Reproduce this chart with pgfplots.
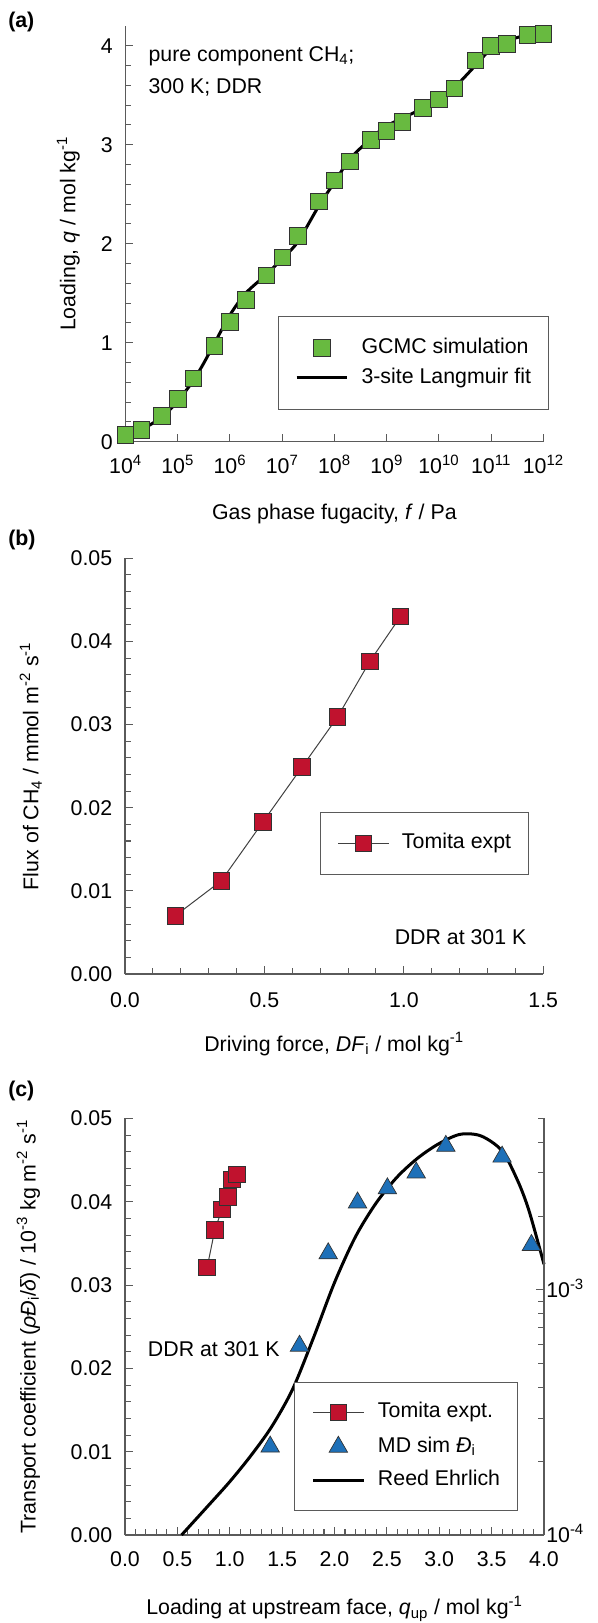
\documentclass[border=0pt]{standalone}
\usepackage{pgfplots}
\pgfplotsset{compat=1.18}
\usepackage{fontspec}
\setmainfont{Liberation Sans}

\definecolor{gcmcgreen}{RGB}{104,186,64}
\definecolor{tomred}{RGB}{192,18,46}
\definecolor{mdblue}{RGB}{30,112,184}
\definecolor{axgray}{RGB}{90,90,90}
\definecolor{markedge}{RGB}{50,50,50}

\pgfplotsset{
  panel/.style={
    scale only axis, clip=false,
    font=\fontsize{16pt}{19pt}\selectfont,
    axis lines*=left,
    axis line style={axgray, line width=0.9pt},
    tick style={axgray, line width=0.8pt},
    major tick length=6pt, minor tick length=4.5pt,
    tick align=inside,
    scaled ticks=false,
    yticklabel style={anchor=east, inner sep=0pt, xshift=-9.4pt},
    xlabel style={anchor=base, inner sep=0pt},
    ylabel style={anchor=base, inner sep=0pt},
    legend cell align=left,
    legend style={draw=axgray, line width=0.8pt, fill=white,
      anchor=north west, inner xsep=12.75pt,
      nodes={inner sep=0pt, text height=11.5pt, text depth=3.5pt},
      /tikz/every odd column/.append style={column sep=9.6pt}},
  },
  wide legend/.style={legend image code/.code={%
      \draw[mark repeat=2,mark phase=2,##1] plot coordinates {(0pt,0pt) (19pt,0pt) (38pt,0pt)};}},
}

\begin{document}
\begin{tikzpicture}[font=\fontsize{16pt}{19pt}\selectfont]
\path[use as bounding box] (0pt,0pt) rectangle (448.5pt,-1217.25pt);

% ---------------- (a) adsorption isotherm ----------------
\node[anchor=base west, inner sep=0pt, font=\fontsize{16pt}{19pt}\selectfont\bfseries] at (6pt,-20.6pt) {(a)};
\begin{axis}[panel,
  at={(94.125pt,-331.275pt)}, anchor=south west,
  width=313.35pt, height=311.8pt,
  xmode=log, xmin=1e4, xmax=1e12, ymin=0, ymax=4.2,
  xtick={1e4,1e5,1e6,1e7,1e8,1e9,1e10,1e11,1e12},
  xticklabels={10\textsuperscript{4},10\textsuperscript{5},10\textsuperscript{6},10\textsuperscript{7},10\textsuperscript{8},10\textsuperscript{9},10\textsuperscript{10},10\textsuperscript{11},10\textsuperscript{12}},
  xminorticks=false,
  ytick={0,1,2,3,4}, yticklabels={0,1,2,3,4}, minor y tick num=4,
  xticklabel style={anchor=base, inner sep=0pt, yshift=-23.75pt},
  xlabel={Gas phase fugacity, \textit{f} / Pa},
  xlabel style={at={(axis description cs:0.5,-0.1867)}},
  ylabel={Loading, \textit{q} / mol kg\textsuperscript{-1}},
  ylabel style={at={(axis description cs:-0.1197,0.5)}},
  legend style={at={(0.3638,0.3024)}, inner ysep=16.1pt, row sep=7.5pt},
]
\addplot[only marks, mark=square*, mark size=6.2pt,
  mark options={fill=gcmcgreen, draw=markedge, line width=0.6pt}, wide legend]
  coordinates {
  (1e4,0.067) (2e4,0.117) (5e4,0.26) (1e5,0.43) (2e5,0.64) (5e5,0.97)
  (1e6,1.21) (2e6,1.43) (5e6,1.68) (1e7,1.86) (2e7,2.08) (5e7,2.43)
  (1e8,2.64) (2e8,2.83) (5e8,3.05) (1e9,3.14) (2e9,3.23) (5e9,3.37)
  (1e10,3.46) (2e10,3.57) (5e10,3.85) (1e11,4.00) (2e11,4.02) (5e11,4.11)
  (1e12,4.12)};
\addlegendentry{GCMC simulation}
\addplot[black, line width=2.25pt, smooth, no markers, wide legend]
  coordinates {
  (1e4,0.06) (2e4,0.12) (5e4,0.25) (1e5,0.41) (2e5,0.62) (3.2e5,0.80)
  (5e5,0.99) (1e6,1.28) (2e6,1.50) (5e6,1.69) (1e7,1.85) (2e7,2.02)
  (5e7,2.38) (1e8,2.62) (2e8,2.86) (5e8,3.06) (1e9,3.19) (3.2e9,3.32)
  (1e10,3.46) (2e10,3.58) (5e10,3.80) (1e11,3.97) (2e11,4.05) (5e11,4.11)
  (1e12,4.13)};
\addlegendentry{3-site Langmuir fit}
\node[anchor=base west, inner sep=0pt] at (rel axis cs:0.0546,0.9146) {pure component CH\textsubscript{4};};
\node[anchor=base west, inner sep=0pt] at (rel axis cs:0.0546,0.8364) {300 K; DDR};
\end{axis}

% ---------------- (b) flux vs driving force ----------------
\node[anchor=base west, inner sep=0pt, font=\fontsize{16pt}{19pt}\selectfont\bfseries] at (6pt,-409.1pt) {(b)};
\begin{axis}[panel,
  at={(93.75pt,-730.5pt)}, anchor=south west,
  width=313.7pt, height=311.8pt,
  xmin=0, xmax=1.5, ymin=0, ymax=0.05,
  xtick={0,0.5,1,1.5}, xticklabels={0.0,0.5,1.0,1.5}, minor x tick num=4,
  ytick={0,0.01,0.02,0.03,0.04,0.05},
  yticklabels={0.00,0.01,0.02,0.03,0.04,0.05}, minor y tick num=4,
  xticklabel style={anchor=base, inner sep=0pt, yshift=-24.85pt},
  xlabel={Driving force, \textit{DF}\textsubscript{i} / mol kg\textsuperscript{-1}},
  xlabel style={at={(axis description cs:0.5,-0.1852)}},
  ylabel={Flux of CH\textsubscript{4} / mmol m\textsuperscript{-2} s\textsuperscript{-1}},
  ylabel style={at={(axis description cs:-0.2068,0.5)}},
  legend style={at={(0.4662,0.3904)}, inner ysep=16pt},
]
\addplot[color=black!75, line width=0.75pt, mark=square*, mark size=6.2pt,
  mark options={fill=tomred, draw=markedge, line width=0.6pt, solid}, wide legend]
  coordinates {
  (0.180,0.0070) (0.345,0.0112) (0.495,0.0183) (0.635,0.0249)
  (0.762,0.0309) (0.878,0.0376) (0.988,0.0430)};
\addlegendentry{Tomita expt}
\node[anchor=base east, inner sep=0pt] at (rel axis cs:0.9603,0.0698) {DDR at 301 K};
\end{axis}

% ---------------- (c) transport coefficient ----------------
\node[anchor=base west, inner sep=0pt, font=\fontsize{16pt}{19pt}\selectfont\bfseries] at (6pt,-822.4pt) {(c)};
\begin{axis}[panel,
  at={(93.75pt,-1151.25pt)}, anchor=south west,
  width=314.25pt, height=312.4pt,
  xmin=0, xmax=4, ymin=0, ymax=0.05,
  xtick={0,0.5,1,1.5,2,2.5,3,3.5,4},
  xticklabels={0.0,0.5,1.0,1.5,2.0,2.5,3.0,3.5,4.0}, minor x tick num=4,
  ytick={0,0.01,0.02,0.03,0.04,0.05},
  yticklabels={0.00,0.01,0.02,0.03,0.04,0.05}, minor y tick num=4,
  xticklabel style={anchor=base, inner sep=0pt, yshift=-23.25pt},
  xlabel={Loading at upstream face, \textit{q}\textsubscript{up} / mol kg\textsuperscript{-1}},
  xlabel style={at={(axis description cs:0.5,-0.192)}},
  ylabel={Transport coefficient (\textit{ρĐ}\textsubscript{i}/\textit{δ}) / 10\textsuperscript{-3} kg m\textsuperscript{-2} s\textsuperscript{-1}},
  ylabel style={at={(axis description cs:-0.2136,0.5)}},
  legend style={at={(0.4033,0.3678)}, inner ysep=15.1pt, row sep=10.3pt},
]
\addplot[color=black!75, line width=0.75pt, mark=square*, mark size=6.2pt,
  mark options={fill=tomred, draw=markedge, line width=0.6pt, solid}, wide legend]
  coordinates {
  (0.784,0.0321) (0.857,0.0366) (0.926,0.0391) (0.981,0.0406)
  (1.020,0.0427) (1.066,0.0433)};
\addlegendentry{Tomita expt.}
\addplot[only marks, mark=triangle*, mark size=8pt,
  mark options={fill=mdblue, draw=markedge, line width=0.5pt}, wide legend]
  coordinates {
  (1.386,0.0106) (1.666,0.0227) (1.940,0.0338) (2.220,0.0399)
  (2.505,0.0416) (2.780,0.0435) (3.063,0.0467) (3.600,0.0454)
  (3.880,0.0348)};
\addlegendentry{MD sim \textit{Đ}\textsubscript{i}}
\addplot[black, line width=2.25pt, smooth, no markers, wide legend]
  coordinates {
  (0.54,0) (0.8,0.0036) (1.0,0.0064) (1.2,0.0095) (1.4,0.0130)
  (1.6,0.0175) (1.8,0.0237) (2.0,0.0303) (2.2,0.0358) (2.4,0.0399)
  (2.6,0.0430) (2.8,0.0453) (3.0,0.0470) (3.2,0.0481) (3.4,0.0479)
  (3.6,0.0461) (3.75,0.0425) (3.85,0.0392) (3.95,0.0348) (4.0,0.0325)};
\addlegendentry{Reed Ehrlich}
\node[anchor=base west, inner sep=0pt] at (rel axis cs:0.0542,0.4274) {DDR at 301 K};
\end{axis}
% right-hand logarithmic scale of panel (c)
\begin{axis}[scale only axis,
  font=\fontsize{16pt}{19pt}\selectfont,
  at={(93.75pt,-1151.25pt)}, anchor=south west,
  width=314.25pt, height=312.4pt,
  xmin=0, xmax=4, ymode=log, ymin=1e-4, ymax=5e-3,
  axis x line=none, axis y line*=right,
  axis line style={axgray, line width=0.9pt},
  tick style={axgray, line width=0.8pt},
  major tick length=6pt, minor tick length=4.5pt, tick align=inside,
  ytick={1e-4,1e-3},
  yticklabels={10\textsuperscript{-4},10\textsuperscript{-3}},
  minor ytick={2e-4,3e-4,4e-4,5e-4,6e-4,7e-4,8e-4,9e-4,2e-3,3e-3,4e-3,5e-3},
  yticklabel style={anchor=base west, inner sep=0pt, xshift=1.5pt, yshift=-5.75pt},
]
\end{axis}
\end{tikzpicture}
\end{document}
